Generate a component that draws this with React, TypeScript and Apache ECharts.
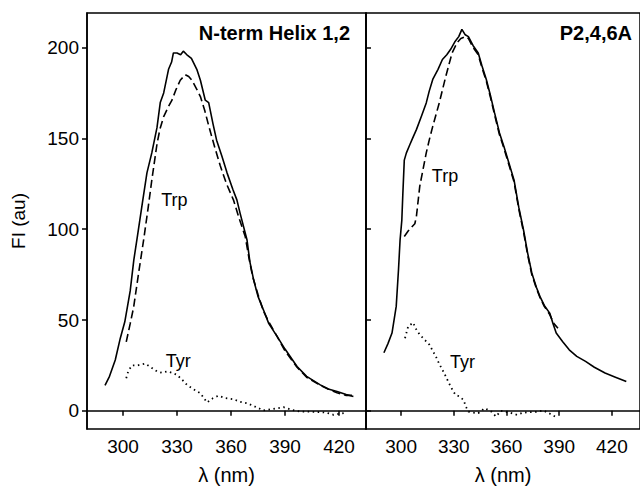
import React, { useEffect, useRef } from "react";
import * as echarts from "echarts";

// wavelength (nm), intensity (au)
const leftTrpSolid: number[][] = [
  [290, 14], [292.5, 19], [295.7, 28], [298.5, 40], [301, 49], [304, 66], [306, 83], [308, 96],
  [311, 116], [313.3, 131], [316, 142], [318.9, 156], [320.7, 169.7], [322.6, 175], [325.3, 188],
  [327, 192], [328, 197], [330, 197], [332, 196], [333.5, 198], [335.5, 196], [338, 194], [341, 188],
  [343, 182], [345.7, 171], [347.6, 169.7], [350, 158], [352, 149], [355, 140], [357.8, 131],
  [361, 122], [363.3, 116], [365, 109], [368.9, 94], [370.5, 82], [372.6, 72], [375, 63],
  [378, 55.6], [381, 48], [385.6, 41], [390, 34], [396.7, 24.4], [402, 19], [409.6, 14.3],
  [414, 12], [418.9, 10.6], [424, 9], [428, 7.9],
];
const leftTrpDashed: number[][] = [
  [301.8, 38], [304, 48], [305.9, 57], [308.7, 76], [311.6, 95], [314, 112], [316, 127],
  [318.9, 147], [320.5, 155], [322.6, 162], [325, 167], [327.2, 171], [329.5, 177], [331.8, 182],
  [334.6, 185], [336.5, 184], [338.3, 182], [341, 177], [343, 173], [345.5, 165], [347.6, 157],
  [351, 145], [354, 135], [357.5, 125], [361.4, 116], [364.5, 106], [367.9, 96], [370, 84],
  [372, 74], [375, 64], [378, 55], [381, 49], [385.6, 41], [390, 33], [396.7, 24], [402, 18.5],
  [409.6, 14], [414, 12], [418.9, 10], [424, 8.5], [428, 8.5],
];
const leftTyr: number[][] = [
  [301.8, 18], [303, 22], [305, 25], [308, 25], [312.4, 26], [315.5, 24], [318.9, 21.7], [321.5, 21],
  [324.4, 21.7], [327, 21], [330, 19.8], [333, 17], [335.5, 14.3], [339, 12], [343, 9.7],
  [346.7, 4.6], [350, 7], [353, 8.3], [357, 7], [361.4, 6.4], [365, 5], [368.9, 4.2], [373, 2.5],
  [378, 0.2], [383, 1], [389.2, 2], [394, 0.5], [398.5, -0.4], [404, -0.5], [409.6, -0.7],
  [413, -1], [417, -2.2], [421, -1.5], [424.3, -0.9],
];
const rightTrpSolid: number[][] = [
  [290.2, 32], [292.5, 37], [294.8, 42.8], [297.2, 57.5], [298.5, 77.7], [299.4, 94], [300.4, 105],
  [301, 120], [301.8, 138], [303, 142], [305, 146.6], [306.5, 150], [308.7, 154.8], [311.5, 162],
  [314.3, 169.5], [316, 176], [318, 182.4], [321, 188], [323.5, 193.4], [326, 196], [328.2, 199],
  [330.5, 203], [332.8, 206], [334.6, 210], [336.5, 207], [338.3, 206], [341, 201], [343.9, 197],
  [346, 190], [348.5, 182.4], [351, 173], [353.2, 164], [356, 153], [358.7, 145], [361.5, 136],
  [364.3, 127], [367, 112], [369.8, 99], [372, 87], [374.4, 75.9], [377, 68], [379, 63],
  [381.5, 58], [384.6, 53.8], [386.5, 48], [388.3, 42.8], [392, 38], [395.7, 33.6], [400, 30],
  [405, 27.2], [410, 24], [416.1, 20.8], [422, 18.5], [428.2, 16.1],
];
const rightTrpDashed: number[][] = [
  [301.8, 96], [304, 99], [307.8, 103], [308.7, 107], [310.6, 123.6], [312.5, 133], [314.3, 142],
  [316, 149], [318, 156.6], [321.7, 169.5], [325.4, 184], [329, 197], [331.8, 202.6], [334, 205],
  [336.5, 206], [338.3, 205], [341, 200], [343.9, 196], [346, 189], [348.5, 181.5], [351, 172],
  [353.2, 163], [356, 152], [358.7, 144], [361.5, 135], [364.3, 126], [367, 111], [369.8, 98],
  [372, 86], [374.4, 75], [377, 67.5], [379, 62.5], [381.5, 57.5], [384.6, 53], [387, 48],
  [389.3, 45.5],
];
const rightTyr: number[][] = [
  [302.2, 40], [304, 46.4], [306.8, 48.6], [308.5, 45], [310.6, 41.9], [313.5, 39], [316.1, 36.4],
  [318, 33], [319.8, 29.9], [321.6, 26], [323.5, 22.6], [325.4, 19], [327.2, 15.3], [329, 12],
  [330.9, 8.8], [333, 8], [335.5, 6], [337, 2], [338.3, -0.4], [341, -1], [343.9, -1.3],
  [347.6, 1.5], [351.3, -0.4], [354, -3.1], [356.8, 0], [358.7, -0.4], [362, -1], [366, -2.2],
  [369.5, -1], [373.5, -0.7], [377, -0.5], [381, 0.2], [384.5, -1.5], [388.3, -3.5],
];

const xTicks = [300, 330, 360, 390, 420];
const yTicks = [0, 50, 100, 150, 200];
const panelTitles = ["N-term Helix 1,2", "P2,4,6A"];
// annotation labels: [panel, wavelength, intensity, text]
const annotations: [number, number, number, string][] = [
  [0, 328.5, 116, "Trp"],
  [0, 330.7, 27.5, "Tyr"],
  [1, 325, 129, "Trp"],
  [1, 335, 27, "Tyr"],
];

const FONT = "'Liberation Sans', Arial, sans-serif";
const BLACK = "#000";

export default function App() {
  const ref = useRef<HTMLDivElement>(null);
  useEffect(() => {
    if (!ref.current) return;
    const chart = echarts.init(ref.current, undefined, { renderer: "svg" });

    const xAxisBase = (gridIndex: number) => ({
      type: "value" as const,
      gridIndex,
      min: 280,
      max: gridIndex === 0 ? 435 : 436,
      name: "λ (nm)",
      nameLocation: "middle" as const,
      nameGap: 36,
      nameTextStyle: { fontFamily: FONT, fontSize: 20, color: BLACK },
      splitLine: { show: false },
      axisLine: { show: true, lineStyle: { color: BLACK, width: 1.5 } },
      axisTick: { show: true, inside: false, length: 5, customValues: xTicks, lineStyle: { color: BLACK, width: 1.5 } },
      axisLabel: { customValues: xTicks, margin: 8, fontFamily: FONT, fontSize: 19, color: BLACK },
    });

    const lineSeries = (
      data: number[][],
      idx: number,
      type: "solid" | "dashed" | "dotted",
    ) => ({
      type: "line" as const,
      xAxisIndex: idx,
      yAxisIndex: idx,
      data,
      showSymbol: false,
      symbol: "none",
      silent: true,
      lineStyle: {
        color: BLACK,
        width: type === "dotted" ? 1.8 : 1.6,
        type: type === "solid" ? "solid" : type === "dashed" ? [8, 4] : [1.5, 3.5],
        cap: "butt",
      },
    });

    const titleGraphics = [
      {
        type: "text",
        right: 640 - 350,
        top: 23,
        style: { text: panelTitles[0], font: `bold 20px ${FONT}`, fill: BLACK },
      },
      {
        type: "text",
        right: 640 - 632,
        top: 23,
        style: { text: panelTitles[1], font: `bold 20px ${FONT}`, fill: BLACK },
      },
    ];

    const option: any = {
      animation: false,
      backgroundColor: "#fff",
      grid: [
        { left: 87, top: 13, width: 279, height: 416, show: true, borderColor: BLACK, borderWidth: 1.5, backgroundColor: "transparent" },
        { left: 366, top: 13, width: 281, height: 416, show: true, borderColor: BLACK, borderWidth: 1.5, backgroundColor: "transparent" },
      ],
      xAxis: [xAxisBase(0), xAxisBase(1)],
      yAxis: [
        {
          type: "value",
          gridIndex: 0,
          min: -10,
          max: 219,
          name: "FI (au)",
          nameLocation: "middle",
          nameGap: 59,
          nameTextStyle: { fontFamily: FONT, fontSize: 19, color: BLACK },
          splitLine: { show: false },
          axisLine: { show: true, lineStyle: { color: BLACK, width: 1.5 } },
          axisTick: { show: true, inside: false, length: 5, customValues: yTicks, lineStyle: { color: BLACK, width: 1.5 } },
          axisLabel: { customValues: yTicks, margin: 8, fontFamily: FONT, fontSize: 19, color: BLACK },
        },
        {
          type: "value",
          gridIndex: 1,
          min: -10,
          max: 219,
          splitLine: { show: false },
          axisLine: { show: true, lineStyle: { color: BLACK, width: 1.5 } },
          axisTick: { show: true, inside: true, length: 5, customValues: yTicks, lineStyle: { color: BLACK, width: 1.5 } },
          axisLabel: { show: false, customValues: yTicks },
        },
      ],
      series: [
        lineSeries(leftTrpSolid, 0, "solid"),
        lineSeries(leftTrpDashed, 0, "dashed"),
        lineSeries(leftTyr, 0, "dotted"),
        lineSeries(rightTrpSolid, 1, "solid"),
        lineSeries(rightTrpDashed, 1, "dashed"),
        lineSeries(rightTyr, 1, "dotted"),
      ],
      graphic: titleGraphics,
    };
    chart.setOption(option);

    const annotationGraphics = annotations.map((a) => {
      const pt = chart.convertToPixel({ gridIndex: a[0] }, [a[1], a[2]]) as number[];
      return {
        type: "text",
        x: pt[0],
        y: pt[1],
        style: {
          text: a[3],
          font: `18px ${FONT}`,
          fill: BLACK,
          align: "center",
          verticalAlign: "middle",
        },
      };
    });
    chart.setOption({ graphic: [...titleGraphics, ...annotationGraphics] });

    return () => chart.dispose();
  }, []);
  return (
    <div
      ref={ref}
      style={{ position: "fixed", left: 0, top: 0, width: 640, height: 490, background: "#fff" }}
    />
  );
}
